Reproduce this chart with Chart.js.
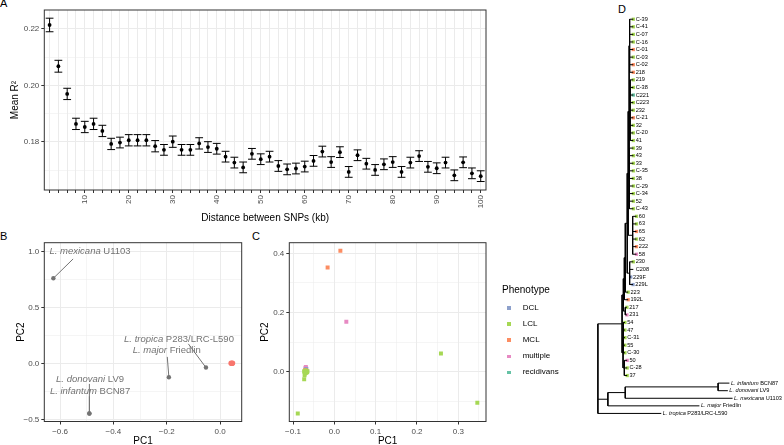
<!DOCTYPE html>
<html>
<head>
<meta charset="utf-8">
<script src="https://cdn.jsdelivr.net/npm/chart.js@4.4.1/dist/chart.umd.min.js"></script>
<style>
  html, body { margin: 0; padding: 0; background: #fff; width: 784px; height: 445px; overflow: hidden; }
  body { position: relative; font-family: "Liberation Sans", Arial, sans-serif; }
  .panel { position: absolute; }
  .tag { position: absolute; font-size: 11px; line-height: 11px; color: #000; }
  #legendC { position: absolute; left: 502px; top: 284px; }
  #legendC .ttl { font-size: 10px; line-height: 12px; color: #000; margin-bottom: 4px; }
  #legendC .item { position: relative; height: 16.1px; font-size: 8px; line-height: 16.1px; color: #000; padding-left: 20.7px; }
  #legendC .key { position: absolute; left: 5.2px; top: 6.3px; width: 3.6px; height: 3.6px; }
</style>
</head>
<body>
<div class="tag" style="left:0px;top:-2px">A</div>
<div class="tag" style="left:0px;top:230.7px">B</div>
<div class="tag" style="left:252px;top:230.7px">C</div>
<div class="tag" style="left:618px;top:4px">D</div>

<div class="panel" style="left:0;top:0;width:490px;height:226px"><canvas id="chartA"></canvas></div>
<div class="panel" style="left:0;top:228px;width:250px;height:220px"><canvas id="chartB"></canvas></div>
<div class="panel" style="left:250px;top:228px;width:240px;height:220px"><canvas id="chartC"></canvas></div>
<div class="panel" style="left:540px;top:0;width:244px;height:445px"><canvas id="chartD"></canvas></div>
<div id="legendC"></div>

<script>
// ---- Panel A: LD decay ----
const distKb = [2, 4, 6, 8, 10, 12, 14, 16, 18, 20, 22, 24, 26, 28, 30, 32, 34, 36, 38, 40,
  42, 44, 46, 48, 50, 52, 54, 56, 58, 60, 62, 64, 66, 68, 70, 72, 74, 76, 78, 80,
  82, 84, 86, 88, 90, 92, 94, 96, 98, 100];
const meanR2 = [0.2214, 0.2068, 0.1970, 0.1864, 0.1853, 0.1864, 0.1839, 0.1793, 0.1798, 0.1806,
  0.1806, 0.1806, 0.1785, 0.1772, 0.1801, 0.1772, 0.1772, 0.1795, 0.1782, 0.1776,
  0.1748, 0.1727, 0.1710, 0.1758, 0.1739, 0.1748, 0.1715, 0.1703, 0.1706, 0.1713,
  0.1733, 0.1766, 0.1729, 0.1764, 0.1694, 0.1753, 0.1723, 0.1701, 0.1721, 0.1729,
  0.1694, 0.1727, 0.1750, 0.1712, 0.1707, 0.1727, 0.1682, 0.1728, 0.1689, 0.1679];
const seR2 = [0.0024, 0.0021, 0.0020, 0.0020, 0.0020, 0.0020, 0.0020, 0.0020, 0.0019, 0.0020,
  0.0020, 0.0020, 0.0020, 0.0019, 0.0020, 0.0019, 0.0019, 0.0020, 0.0019, 0.0019,
  0.0019, 0.0019, 0.0019, 0.0019, 0.0019, 0.0019, 0.0019, 0.0019, 0.0019, 0.0019,
  0.0019, 0.0019, 0.0019, 0.0019, 0.0019, 0.0019, 0.0019, 0.0019, 0.0019, 0.0019,
  0.0019, 0.0019, 0.0019, 0.0019, 0.0019, 0.0019, 0.0019, 0.0019, 0.0019, 0.0019];
const xLabelsA = [10, 20, 30, 40, 50, 60, 70, 80, 90, 100];
const yTicksA = [0.17, 0.18, 0.19, 0.20, 0.21, 0.22];
const yMajorA = [0.18, 0.20, 0.22];

// ---- Panel B: PCA incl. reference strains ----
const refNames = ['L. mexicana U1103', 'L. donovani LV9', 'L. infantum BCN87', 'L. major Friedlin', 'L. tropica P283/LRC-L590'];
const refPC1 = [-0.625, -0.490, -0.490, -0.192, -0.053];
const refPC2 = [0.765, -0.444, -0.444, -0.119, -0.033];
const isoPC1B = [0.041, 0.044, 0.047, 0.045];
const isoPC2B = [0.006, 0.005, 0.007, 0.004];
const xTicksB = [-0.6, -0.5, -0.4, -0.3, -0.2, -0.1, 0.0];
const xMajorB = [-0.6, -0.4, -0.2, 0.0];
const yTicksB = [-0.5, -0.25, 0.0, 0.25, 0.5, 0.75, 1.0];
const yMajorB = [-0.5, 0.0, 0.5, 1.0];

// ---- Panel C: PCA of isolates by phenotype ----
const phenotypes = ['DCL', 'LCL', 'MCL', 'multiple', 'recidivans'];
const phenoColors = ['#8DA0CB', '#A6D854', '#FC8D62', '#E78AC3', '#66C2A5'];
const pc1C = [0.0146, -0.0163, -0.070, -0.068, 0.029, -0.069, -0.070, -0.068, -0.069, -0.0885, 0.258, 0.346,
  -0.073, -0.072, -0.071, -0.072, -0.067, -0.065, -0.070, -0.066, -0.073, -0.069, -0.068, -0.069];
const pc2C = [0.409, 0.352, 0.006, 0.003, 0.169, 0.016, 0.012, 0.009, 0.007, -0.141, 0.062, -0.105,
  -0.025, -0.012, -0.006, -0.001, 0.001, 0.002, 0.004, -0.002, 0.002, -0.004, 0.010, 0.011];
const phenoC = ['MCL', 'MCL', 'MCL', 'MCL', 'multiple', 'multiple', 'multiple', 'DCL', 'DCL', 'LCL', 'LCL', 'LCL',
  'LCL', 'LCL', 'LCL', 'LCL', 'LCL', 'LCL', 'LCL', 'LCL', 'LCL', 'LCL', 'multiple', 'recidivans'];
const xTicksC = [-0.1, -0.05, 0.0, 0.05, 0.1, 0.15, 0.2, 0.25, 0.3, 0.35];
const xMajorC = [-0.1, 0.0, 0.1, 0.2, 0.3];
const yTicksC = [-0.1, 0.0, 0.1, 0.2, 0.3, 0.4];
const yMajorC = [0.0, 0.2, 0.4];

// ---- Panel D: tree ----
const tipNames = ['C-39', 'C-41', 'C-07', 'C-16', 'C-01', 'C-03', 'C-02', '218', '219', 'C-38', 'C221', 'C223',
  '232', 'C-21', '32', 'C-20', '41', '39', '43', '33', 'C-35', '38', 'C-29', 'C-34', '52', 'C-43',
  '60', '63', '65', '62', '222', '58', '230', 'C208', '229F', '229L', '223', '192L', '217', '231',
  '54', '47', 'C-31', '55', 'C-30', '50', 'C-28', '37'];
const tipPheno = ['LCL', 'LCL', 'LCL', 'LCL', 'MCL', 'LCL', 'MCL', 'MCL', 'LCL', 'LCL', 'recidivans', 'LCL',
  'LCL', 'MCL', 'LCL', 'LCL', 'LCL', 'LCL', 'LCL', 'LCL', 'LCL', 'LCL', 'LCL', 'LCL', 'LCL', 'LCL',
  'LCL', 'LCL', 'MCL', 'LCL', 'MCL', 'multiple', 'LCL', null, 'DCL', 'DCL', 'LCL', 'MCL', 'LCL', 'multiple',
  'LCL', 'LCL', 'LCL', 'LCL', 'LCL', 'multiple', 'LCL', 'LCL'];
const treeNewick =
  '(((((((' +                       // root, ingroup, X, Xa, Xb, X1, X2
  '((C-39:0.0279,C-41:0.0279,C-07:0.0279,C-16:0.0279,C-01:0.0279,C-03:0.0279,C-02:0.0279,218:0.0279):0.0037,' +
  '(219:0.0243,C-38:0.0243,C221:0.0243,C223:0.0243,232:0.0243,C-21:0.0243,32:0.0243,C-20:0.0243,41:0.0243):0.0074,' +
  '(39:0.0305,43:0.0305,33:0.0305,C-35:0.0305,38:0.0305,C-29:0.0305,C-34:0.0305,52:0.0305,C-43:0.0305):0.002):0.0074,' +
  '(60:0.029,63:0.029,65:0.029,62:0.029,222:0.029,58:0.029):0.034' +
  '):0.0074,' +                     // X2
  '(230:0.028,C208:0.028,229F:0.0088,229L:0.026):0.0184' +
  '):0.0147,' +                     // X1
  '223:0.022' +
  '):0.0074,' +                     // Xb
  '192L:0.0294' +
  '):0.0074,' +                     // Xa
  '(217:0.0125,231:0.0125):0.0147' +
  '):0.0096,' +                     // X
  '((54:0.0125,47:0.0125,C-31:0.0125,55:0.0125,C-30:0.0125):0.002,(50:0.022,C-28:0.022,37:0.022):0.0096):0.0074' +
  '):0.184,' +                      // ingroup
  '(((L. infantum BCN87:0.086,L. donovani LV9:0.074):0.706,L. mexicana U1103:0.816):0.132,L. major Friedlin:0.696):0.076,' +
  'L. tropica P283/LRC-L590:0.482);';

// ---------------------------------------------------------------
Chart.defaults.font.family = '"Liberation Sans", Arial, sans-serif';
Chart.defaults.animation = false;
Chart.defaults.plugins.legend.display = false;
Chart.defaults.plugins.tooltip.enabled = false;

const FONT = '"Liberation Sans", Arial, sans-serif';
const near = (list, v) => list.some(m => Math.abs(m - v) < 1e-9);
const fmt1 = v => (v < 0 ? '\u2212' : '') + Math.abs(v).toFixed(1);

// ggplot theme_bw style axis
function ggAxis(o) {
  return {
    type: 'linear',
    min: o.min,
    max: o.max,
    afterBuildTicks: s => { s.ticks = o.ticks.map(v => ({ value: v })); },
    afterFit: s => {
      if (s.isHorizontal()) s.height = o.size; else s.width = o.size;
      s.paddingLeft = 0; s.paddingRight = 0; s.paddingTop = 0; s.paddingBottom = 0;
    },
    grid: {
      color: '#EBEBEB',
      lineWidth: c => (c.tick && near(o.majors, c.tick.value)) ? 1 : 0.5,
      tickColor: c => (c.tick && near(o.majors, c.tick.value)) ? '#333333' : 'rgba(0,0,0,0)',
      tickLength: 3,
      drawTicks: true
    },
    border: { display: false },
    ticks: {
      autoSkip: false,
      minRotation: o.rotate || 0,
      maxRotation: o.rotate || 0,
      padding: 2,
      color: '#4D4D4D',
      font: { size: 8 },
      callback: v => near(o.labelled || o.majors, v) ? o.fmt(v) : ''
    },
    title: {
      display: true,
      text: o.title,
      color: '#000',
      font: { size: 10, lineHeight: 1.2 },
      padding: o.titlePad
    }
  };
}

const panelBorder = {
  id: 'panelBorder',
  afterDraw(chart) {
    const a = chart.chartArea, ctx = chart.ctx;
    ctx.save();
    ctx.strokeStyle = '#333333';
    ctx.lineWidth = 1;
    ctx.strokeRect(a.left, a.top, a.right - a.left, a.bottom - a.top);
    ctx.restore();
  }
};

// error bars drawn under the points
const errorBars = {
  id: 'errorBars',
  beforeDatasetsDraw(chart) {
    const { ctx, scales: { x, y } } = chart;
    ctx.save();
    ctx.strokeStyle = '#000';
    ctx.lineWidth = 1;
    distKb.forEach((d, i) => {
      const px = x.getPixelForValue(d);
      const lo = y.getPixelForValue(meanR2[i] - seR2[i]);
      const hi = y.getPixelForValue(meanR2[i] + seR2[i]);
      ctx.beginPath();
      ctx.moveTo(px, lo); ctx.lineTo(px, hi);
      ctx.moveTo(px - 3.9, lo); ctx.lineTo(px + 3.9, lo);
      ctx.moveTo(px - 3.9, hi); ctx.lineTo(px + 3.9, hi);
      ctx.stroke();
    });
    ctx.restore();
  }
};

new Chart(document.getElementById('chartA'), {
  type: 'scatter',
  data: {
    datasets: [{
      data: distKb.map((d, i) => ({ x: d, y: meanR2[i] })),
      pointRadius: 1.9,
      pointBackgroundColor: '#000',
      pointBorderWidth: 0
    }]
  },
  options: {
    responsive: true,
    maintainAspectRatio: false,
    layout: { padding: { top: 10, right: 4, left: 0, bottom: 0 } },
    scales: {
      x: ggAxis({ min: 0.8, max: 101.2, ticks: distKb, majors: distKb, labelled: xLabelsA, fmt: v => String(v),
        size: 36, rotate: 90, title: 'Distance between SNPs (kb)', titlePad: { top: 0, bottom: 2 } }),
      y: ggAxis({ min: 0.163, max: 0.2267, ticks: yTicksA, majors: yMajorA, fmt: v => v.toFixed(2),
        size: 44.3, title: 'Mean R\u00B2', titlePad: { top: 9, bottom: 0 } })
    }
  },
  plugins: [errorBars, panelBorder]
});

// ---- Panel B ----
const labelsB = [
  { name: 0, at: [-0.4875, 1.009], seg: [-0.551, 0.938] },
  { name: 4, at: [-0.154, 0.223], seg: [-0.119, 0.179] },
  { name: 3, at: [-0.200, 0.125], seg: [-0.198, 0.0625] },
  { name: 1, at: [-0.4875, -0.137], seg: [-0.490, -0.179] },
  { name: 2, at: [-0.4875, -0.244], seg: [-0.490, -0.290] }
];
const LABEL_GREY = '#737373';

function drawMixed(ctx, name, cx, cy, size) {
  const parts = name.split(' ');
  const sp = parts.slice(0, 2).join(' ');
  const rest = ' ' + parts.slice(2).join(' ');
  ctx.font = 'italic ' + size + 'px ' + FONT;
  const w1 = ctx.measureText(sp).width;
  ctx.font = size + 'px ' + FONT;
  const w2 = ctx.measureText(rest).width;
  let x0 = cx - (w1 + w2) / 2;
  ctx.textAlign = 'left';
  ctx.textBaseline = 'middle';
  ctx.font = 'italic ' + size + 'px ' + FONT;
  ctx.fillText(sp, x0, cy);
  ctx.font = size + 'px ' + FONT;
  ctx.fillText(rest, x0 + w1, cy);
}

const repelLabels = {
  id: 'repelLabels',
  beforeDatasetsDraw(chart) {
    const { ctx, scales: { x, y } } = chart;
    ctx.save();
    ctx.strokeStyle = LABEL_GREY;
    ctx.fillStyle = LABEL_GREY;
    ctx.lineWidth = 1;
    labelsB.forEach(l => {
      ctx.beginPath();
      ctx.moveTo(x.getPixelForValue(refPC1[l.name]), y.getPixelForValue(refPC2[l.name]));
      ctx.lineTo(x.getPixelForValue(l.seg[0]), y.getPixelForValue(l.seg[1]));
      ctx.stroke();
    });
    labelsB.forEach(l => {
      drawMixed(ctx, refNames[l.name], x.getPixelForValue(l.at[0]), y.getPixelForValue(l.at[1]), 9.5);
    });
    ctx.restore();
  }
};

new Chart(document.getElementById('chartB'), {
  type: 'scatter',
  data: {
    datasets: [
      { data: refPC1.map((v, i) => ({ x: v, y: refPC2[i] })), pointRadius: 2.2, pointBackgroundColor: LABEL_GREY, pointBorderWidth: 0 },
      { data: isoPC1B.map((v, i) => ({ x: v, y: isoPC2B[i] })), pointRadius: 2.6, pointBackgroundColor: '#F8766D', pointBorderWidth: 0 }
    ]
  },
  options: {
    responsive: true,
    maintainAspectRatio: false,
    layout: { padding: { top: 14.7, right: 8.3, left: 0, bottom: 0 } },
    scales: {
      x: ggAxis({ min: -0.659, max: 0.081, ticks: xTicksB, majors: xMajorB, fmt: fmt1,
        size: 26.5, title: 'PC1', titlePad: { top: 0, bottom: 0.3 } }),
      y: ggAxis({ min: -0.515, max: 1.083, ticks: yTicksB, majors: yMajorB, fmt: fmt1,
        size: 44.3, title: 'PC2', titlePad: { top: 15.7, bottom: 0 } })
    }
  },
  plugins: [repelLabels, panelBorder]
});

// ---- Panel C ----
const drawOrderC = ['LCL', 'MCL', 'DCL', 'multiple', 'recidivans'];
new Chart(document.getElementById('chartC'), {
  type: 'scatter',
  data: {
    datasets: drawOrderC.map(p => ({
      label: p,
      data: pc1C.map((v, i) => ({ x: v, y: pc2C[i], p: phenoC[i] })).filter(d => d.p === p),
      pointStyle: 'rect',
      pointRadius: 2.8,
      pointBackgroundColor: phenoColors[phenotypes.indexOf(p)],
      pointBorderWidth: 0
    }))
  },
  options: {
    responsive: true,
    maintainAspectRatio: false,
    layout: { padding: { top: 14.7, right: 4, left: 0, bottom: 0 } },
    scales: {
      x: ggAxis({ min: -0.109, max: 0.367, ticks: xTicksC, majors: xMajorC, fmt: fmt1,
        size: 26.5, title: 'PC1', titlePad: { top: 0, bottom: 0.3 } }),
      y: ggAxis({ min: -0.168, max: 0.436, ticks: yTicksC, majors: yMajorC, fmt: fmt1,
        size: 39.3, title: 'PC2', titlePad: { top: 9, bottom: 0 } })
    }
  },
  plugins: [panelBorder]
});

// legend for C
(function () {
  const box = document.getElementById('legendC');
  let html = '<div class="ttl">Phenotype</div>';
  phenotypes.forEach((p, i) => {
    html += '<div class="item"><span class="key" style="background:' + phenoColors[i] + '"></span>' + p + '</div>';
  });
  box.innerHTML = html;
})();

// ---- Panel D: tree ----
function parseNewick(s) {
  let i = 0;
  function node() {
    const n = { children: [], name: '', len: 0 };
    if (s[i] === '(') {
      i++;
      n.children.push(node());
      while (s[i] === ',') { i++; n.children.push(node()); }
      i++;
    }
    let name = '';
    while (i < s.length && !',():;'.includes(s[i])) name += s[i++];
    n.name = name;
    if (s[i] === ':') {
      i++;
      let num = '';
      while (i < s.length && !',();'.includes(s[i])) num += s[i++];
      n.len = parseFloat(num);
    }
    return n;
  }
  return node();
}

const tree = parseNewick(treeNewick);
const leaves = [];
const edgePts = [];
(function place(n, x0) {
  n.x = x0 + n.len;
  if (!n.children.length) { n.y = leaves.length + 1; leaves.push(n); return; }
  n.children.forEach(c => place(c, n.x));
  n.y = n.children.reduce((s, c) => s + c.y, 0) / n.children.length;
})(tree, 0);
(function edges(n) {
  if (!n.children.length) return;
  const first = n.children[0], last = n.children[n.children.length - 1];
  edgePts.push({ x: n.x, y: first.y }, { x: n.x, y: last.y }, { x: null, y: null });
  n.children.forEach(c => {
    edgePts.push({ x: n.x, y: c.y }, { x: c.x, y: c.y }, { x: null, y: null });
    edges(c);
  });
})(tree);

const tipDatasets = phenotypes.map((p, k) => ({
  type: 'scatter',
  data: leaves.filter(l => tipPheno[tipNames.indexOf(l.name)] === p).map(l => ({ x: l.x, y: l.y })),
  pointStyle: 'rect',
  pointRadius: 2.3,
  pointBackgroundColor: phenoColors[k],
  pointBorderWidth: 0,
  clip: false
}));

const tipLabels = {
  id: 'tipLabels',
  afterDatasetsDraw(chart) {
    const { ctx, scales: { x, y } } = chart;
    ctx.save();
    ctx.fillStyle = '#000';
    leaves.forEach(l => {
      const px = x.getPixelForValue(l.x), py = y.getPixelForValue(l.y);
      if (tipNames.includes(l.name)) {
        ctx.font = '5.6px ' + FONT;
        ctx.textAlign = 'left';
        ctx.textBaseline = 'middle';
        ctx.fillText(l.name, px + 2.3, py);
      } else {
        const parts = l.name.split(' ');
        const sp = parts.slice(0, 2).join(' ');
        ctx.font = 'italic 5.6px ' + FONT;
        ctx.textAlign = 'left';
        ctx.textBaseline = 'middle';
        ctx.fillText(sp, px + 1.5, py);
        const w = ctx.measureText(sp).width;
        ctx.font = '5.6px ' + FONT;
        ctx.fillText(' ' + parts.slice(2).join(' '), px + 1.5 + w, py);
      }
    });
    ctx.restore();
  }
};

new Chart(document.getElementById('chartD'), {
  type: 'scatter',
  data: {
    datasets: [{
      type: 'line',
      data: edgePts,
      borderColor: '#000',
      borderWidth: 1,
      pointRadius: 0,
      spanGaps: false,
      fill: false,
      clip: false
    }].concat(tipDatasets)
  },
  options: {
    responsive: true,
    maintainAspectRatio: false,
    layout: { padding: 0 },
    scales: {
      x: { type: 'linear', display: false, min: -0.4096, max: 1.3846 },
      y: { type: 'linear', display: false, reverse: true, min: -1.008, max: 56.636 }
    }
  },
  plugins: [tipLabels]
});
</script>
</body>
</html>
